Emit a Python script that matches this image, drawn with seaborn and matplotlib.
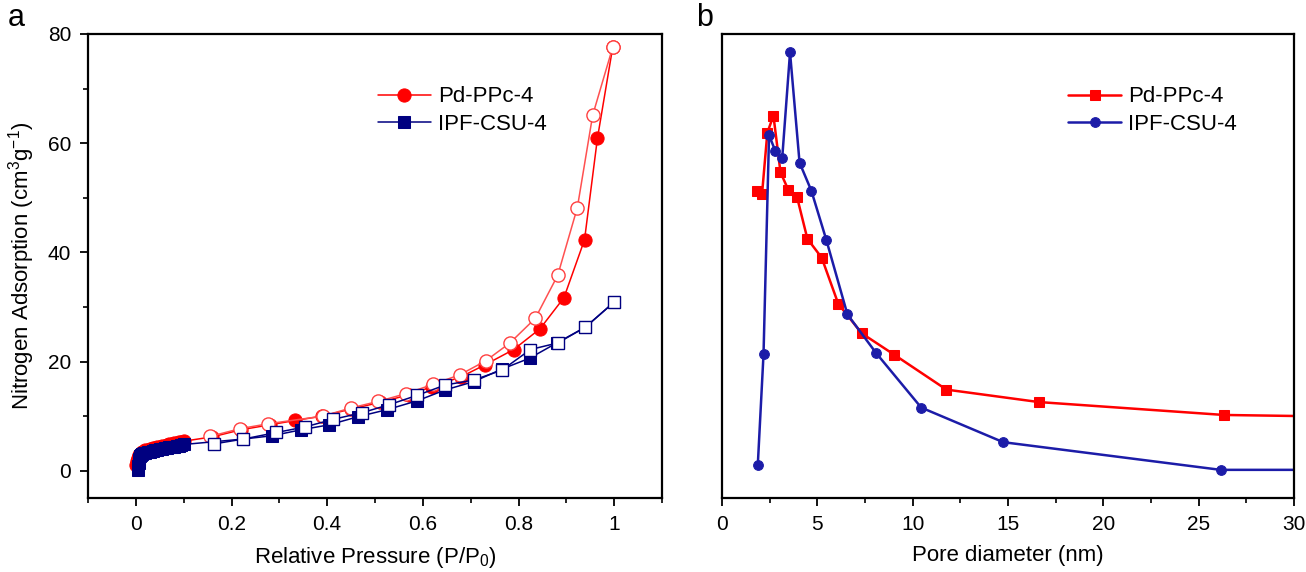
import numpy as np
import pandas as pd
import matplotlib
matplotlib.use("Agg")
import matplotlib.pyplot as plt
from matplotlib.ticker import MultipleLocator
import seaborn as sns

# Panel a: N2 isotherms (adsorption filled, desorption open)
pd_ads_x = [0.0, 0.002, 0.004, 0.006, 0.008, 0.01, 0.013, 0.016, 0.02, 0.025, 0.03, 0.035,
            0.04, 0.045, 0.05, 0.055, 0.06, 0.065, 0.07, 0.075, 0.08, 0.085, 0.09, 0.095, 0.1,
            0.16, 0.22, 0.28, 0.333, 0.39, 0.45, 0.51, 0.57, 0.62, 0.68, 0.73, 0.79,
            0.845, 0.895, 0.938, 0.965, 0.997]
pd_ads_y = [1.0, 1.8, 2.4, 2.8, 3.0, 3.2, 3.4, 3.5, 3.7, 3.85, 4.0, 4.1,
            4.2, 4.3, 4.4, 4.5, 4.6, 4.7, 4.8, 4.9, 5.0, 5.1, 5.2, 5.3, 5.4,
            6.2, 7.5, 8.4, 9.2, 10.0, 11.3, 12.5, 13.9, 15.4, 17.2, 19.4, 22.2,
            26.0, 31.7, 42.3, 60.9, 77.6]
pd_des_x = [0.997, 0.955, 0.923, 0.882, 0.835, 0.782, 0.731, 0.678, 0.621, 0.564,
            0.507, 0.45, 0.391, 0.277, 0.218, 0.156]
pd_des_y = [77.6, 65.1, 48.2, 35.8, 27.9, 23.4, 20.1, 17.6, 15.8, 14.1,
            12.7, 11.5, 10.0, 8.6, 7.7, 6.3]

ipf_ads_x = [0.004, 0.005, 0.006, 0.007, 0.008, 0.01, 0.013, 0.016, 0.02, 0.025, 0.03, 0.035,
             0.04, 0.045, 0.05, 0.055, 0.06, 0.065, 0.07, 0.075, 0.08, 0.085, 0.09, 0.095, 0.1,
             0.225, 0.285, 0.346, 0.404, 0.465, 0.526, 0.588, 0.647, 0.706, 0.765,
             0.823, 0.88, 0.94, 1.0]
ipf_ads_y = [0.2, 0.8, 1.5, 2.2, 2.6, 2.9, 3.1, 3.2, 3.3, 3.4, 3.5, 3.6,
             3.7, 3.8, 3.9, 4.0, 4.1, 4.2, 4.3, 4.35, 4.4, 4.5, 4.6, 4.7, 4.8,
             5.8, 6.4, 7.5, 8.4, 9.9, 11.2, 12.8, 14.8, 16.3, 18.6,
             20.6, 23.4, 26.3, 30.9]
ipf_des_x = [1.0, 0.94, 0.882, 0.825, 0.765, 0.706, 0.647, 0.588, 0.53, 0.472,
             0.412, 0.353, 0.294, 0.225, 0.163]
ipf_des_y = [30.9, 26.3, 23.4, 22.2, 18.4, 16.6, 15.7, 13.8, 12.1, 10.6,
             9.4, 8.0, 7.0, 5.8, 4.9]

# Panel b: pore size distribution (arbitrary units)
pd_pore_x = [1.82, 2.10, 2.38, 2.70, 3.07, 3.48, 3.94, 4.48, 5.23, 6.10, 7.33, 9.02,
             11.77, 16.61, 26.32, 33.0]
pd_pore_y = [0.659, 0.652, 0.786, 0.823, 0.700, 0.662, 0.646, 0.556, 0.515, 0.415,
             0.351, 0.305, 0.229, 0.202, 0.174, 0.170]
ipf_pore_x = [1.88, 2.18, 2.47, 2.79, 3.16, 3.57, 4.07, 4.69, 5.47, 6.58, 8.09,
              10.45, 14.75, 26.15, 33.0]
ipf_pore_y = [0.066, 0.306, 0.781, 0.747, 0.731, 0.960, 0.721, 0.660, 0.554, 0.392,
              0.308, 0.190, 0.115, 0.055, 0.055]

red = "#ff0000"
navy = "#000080"
blue_b = "#1c1ca8"

sns.set_theme(style="ticks")
plt.rcParams["font.family"] = ["Liberation Sans", "DejaVu Sans"]
plt.rcParams["mathtext.fontset"] = "custom"
plt.rcParams["mathtext.rm"] = "Liberation Sans"
plt.rcParams["mathtext.it"] = "Liberation Sans:italic"
plt.rcParams["xtick.direction"] = "out"
plt.rcParams["ytick.direction"] = "out"
for key in ["text.color", "axes.labelcolor", "xtick.color", "ytick.color"]:
    plt.rcParams[key] = "black"

fig = plt.figure(figsize=(13.06, 5.72), dpi=100)
ax1 = fig.add_axes([0.0674, 0.1294, 0.4395, 0.8112])
ax2 = fig.add_axes([0.5528, 0.1294, 0.4380, 0.8112])

# --- panel a
sns.lineplot(x=pd_ads_x, y=pd_ads_y, sort=False, estimator=None, ax=ax1, color=red,
             lw=1.1, marker="o", markersize=9.5, mec=red, mfc=red, label="Pd-PPc-4")
sns.lineplot(x=pd_des_x, y=pd_des_y, sort=False, estimator=None, ax=ax1, color="#ff5050",
             lw=1.1, marker="o", markersize=9.5, mec="#ff4040", mfc="white", mew=1.0)
sns.lineplot(x=ipf_ads_x, y=ipf_ads_y, sort=False, estimator=None, ax=ax1, color=navy,
             lw=1.1, marker="s", markersize=8, mec=navy, mfc=navy, label="IPF-CSU-4")
sns.lineplot(x=ipf_des_x, y=ipf_des_y, sort=False, estimator=None, ax=ax1, color=navy,
             lw=1.1, marker="s", markersize=8.5, mec=navy, mfc="white", mew=1.0)

ax1.set_xlim(-0.1, 1.1)
ax1.set_ylim(-5, 80)
ax1.xaxis.set_minor_locator(MultipleLocator(0.1))
ax1.yaxis.set_major_locator(MultipleLocator(20))
ax1.yaxis.set_minor_locator(MultipleLocator(10))
ax1.set_xticks([0, 0.2, 0.4, 0.6, 0.8, 1.0], ["0", "0.2", "0.4", "0.6", "0.8", "1"])
ax1.set_xlabel("Relative Pressure (P/P$_0$)", fontsize=16, labelpad=8)
ax1.set_ylabel("Nitrogen Adsorption (cm$^3$g$^{-1}$)", fontsize=16, labelpad=8)
ax1.legend(loc="upper left", bbox_to_anchor=(0.47, 0.93), frameon=False, fontsize=16,
           handlelength=2.4, handletextpad=0.3, labelspacing=0.3)

# --- panel b
sns.lineplot(x=pd_pore_x, y=pd_pore_y, sort=False, estimator=None, ax=ax2, color=red,
             lw=1.8, marker="s", markersize=7, mec=red, mfc=red, label="Pd-PPc-4")
sns.lineplot(x=ipf_pore_x, y=ipf_pore_y, sort=False, estimator=None, ax=ax2, color=blue_b,
             lw=1.8, marker="o", markersize=7, mec=blue_b, mfc=blue_b, label="IPF-CSU-4")
ax2.set_xlim(0, 30)
ax2.set_ylim(-0.006, 1.0)
ax2.xaxis.set_major_locator(MultipleLocator(5))
ax2.xaxis.set_minor_locator(MultipleLocator(2.5))
ax2.set_yticks([])
ax2.set_xlabel("Pore diameter (nm)", fontsize=16, labelpad=8)
ax2.set_ylabel("")
ax2.legend(loc="upper left", bbox_to_anchor=(0.57, 0.93), frameon=False, fontsize=16,
           handlelength=2.4, handletextpad=0.3, labelspacing=0.3)

for ax in (ax1, ax2):
    for side in ["top", "right", "left", "bottom"]:
        ax.spines[side].set_visible(True)
        ax.spines[side].set_color("black")
        ax.spines[side].set_linewidth(1.6)
    ax.tick_params(which="major", length=6, width=1.3, labelsize=15, color="black",
                   top=False, right=False, pad=6)
    ax.tick_params(which="minor", length=3.5, width=1.2, color="black", top=False, right=False)
ax2.tick_params(axis="y", which="both", left=False)

fig.text(0.006, 0.955, "a", fontsize=22)
fig.text(0.533, 0.955, "b", fontsize=22)

fig.savefig("out.png", dpi=100)
